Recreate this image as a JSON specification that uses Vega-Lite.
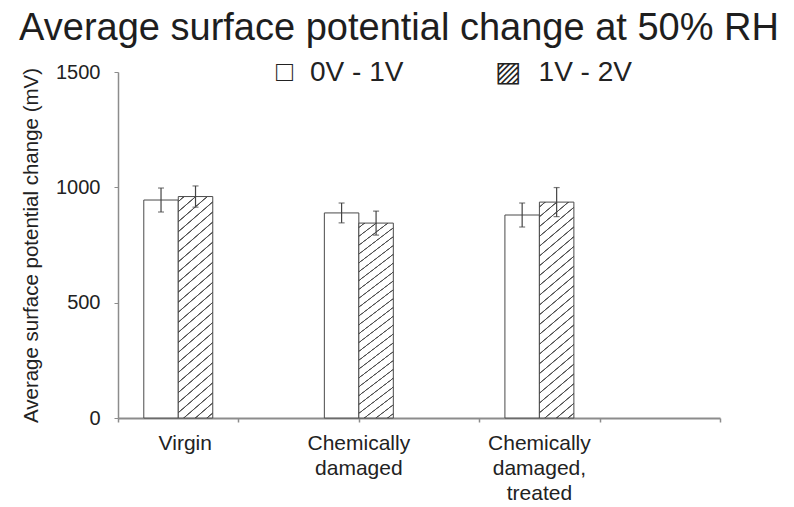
{
  "$schema": "https://vega.github.io/schema/vega-lite/v6.json",
  "width": 602,
  "height": 346,
  "autosize": {"type": "none"},
  "padding": {"left": 118, "top": 72, "right": 74, "bottom": 89},
  "background": "white",
  "config": {"font": "Liberation Sans", "view": {"stroke": null}},
  "title": {
    "text": "Average surface potential change at 50% RH",
    "fontSize": 38,
    "fontWeight": "normal",
    "color": "#1e1e1e",
    "anchor": "middle",
    "frame": "group",
    "dx": -20,
    "offset": 11
  },
  "data": {
    "values": [
      {"sample": "Virgin", "range": "0V - 1V", "mv": 945, "lo": 893, "hi": 997},
      {"sample": "Virgin", "range": "1V - 2V", "mv": 960, "lo": 914, "hi": 1006},
      {"sample": "Chemically damaged", "range": "0V - 1V", "mv": 889, "lo": 846, "hi": 932},
      {"sample": "Chemically damaged", "range": "1V - 2V", "mv": 845, "lo": 793, "hi": 897},
      {"sample": "Chemically damaged, treated", "range": "0V - 1V", "mv": 880, "lo": 828, "hi": 932},
      {"sample": "Chemically damaged, treated", "range": "1V - 2V", "mv": 936, "lo": 873, "hi": 999}
    ]
  },
  "resolve": {"scale": {"x": "independent"}, "axis": {"x": "independent"}},
  "layer": [
    {
      "mark": {"type": "rule", "opacity": 0},
      "encoding": {
        "x": {
          "datum": 0,
          "type": "quantitative",
          "scale": {"domain": [0, 5], "nice": false, "zero": false},
          "axis": {
            "orient": "bottom",
            "values": [0, 1, 2, 3, 4, 5],
            "labels": false,
            "title": null,
            "grid": false,
            "domainColor": "#8c8c8c",
            "domainWidth": 2,
            "tickColor": "#8c8c8c",
            "tickWidth": 1.5,
            "tickSize": 4
          }
        }
      }
    },
    {
      "layer": [
        {
          "mark": {"type": "bar", "strokeWidth": 1},
          "encoding": {
            "y": {
              "field": "mv",
              "type": "quantitative",
              "title": "Average surface potential change (mV)",
              "scale": {"domain": [0, 1500], "nice": false},
              "axis": {
                "values": [0, 500, 1000, 1500],
                "format": "d",
                "grid": false,
                "titleFontSize": 20.5,
                "titleFontWeight": "normal",
                "titleColor": "#222",
                "titlePadding": 14,
                "labelFontSize": 20,
                "labelColor": "#222",
                "labelPadding": 14,
                "tickSize": 4,
                "tickColor": "#8c8c8c",
                "domainColor": "#8c8c8c",
                "domainWidth": 1.5
              }
            },
            "fill": {
              "condition": {
                "test": "datum.range === '1V - 2V'",
                "value": {
                  "gradient": "linear",
                  "x1": 0, "y1": 0, "x2": 0.1503, "y2": 1.1146,
                  "stops": [
                    {"offset": 0, "color": "white"},
                    {"offset": 0.016, "color": "white"}, {"offset": 0.0185, "color": "#505050"}, {"offset": 0.0215, "color": "#505050"}, {"offset": 0.024, "color": "white"},
                    {"offset": 0.056, "color": "white"}, {"offset": 0.0585, "color": "#505050"}, {"offset": 0.0615, "color": "#505050"}, {"offset": 0.064, "color": "white"},
                    {"offset": 0.096, "color": "white"}, {"offset": 0.0985, "color": "#505050"}, {"offset": 0.1015, "color": "#505050"}, {"offset": 0.104, "color": "white"},
                    {"offset": 0.136, "color": "white"}, {"offset": 0.1385, "color": "#505050"}, {"offset": 0.1415, "color": "#505050"}, {"offset": 0.144, "color": "white"},
                    {"offset": 0.176, "color": "white"}, {"offset": 0.1785, "color": "#505050"}, {"offset": 0.1815, "color": "#505050"}, {"offset": 0.184, "color": "white"},
                    {"offset": 0.216, "color": "white"}, {"offset": 0.2185, "color": "#505050"}, {"offset": 0.2215, "color": "#505050"}, {"offset": 0.224, "color": "white"},
                    {"offset": 0.256, "color": "white"}, {"offset": 0.2585, "color": "#505050"}, {"offset": 0.2615, "color": "#505050"}, {"offset": 0.264, "color": "white"},
                    {"offset": 0.296, "color": "white"}, {"offset": 0.2985, "color": "#505050"}, {"offset": 0.3015, "color": "#505050"}, {"offset": 0.304, "color": "white"},
                    {"offset": 0.336, "color": "white"}, {"offset": 0.3385, "color": "#505050"}, {"offset": 0.3415, "color": "#505050"}, {"offset": 0.344, "color": "white"},
                    {"offset": 0.376, "color": "white"}, {"offset": 0.3785, "color": "#505050"}, {"offset": 0.3815, "color": "#505050"}, {"offset": 0.384, "color": "white"},
                    {"offset": 0.416, "color": "white"}, {"offset": 0.4185, "color": "#505050"}, {"offset": 0.4215, "color": "#505050"}, {"offset": 0.424, "color": "white"},
                    {"offset": 0.456, "color": "white"}, {"offset": 0.4585, "color": "#505050"}, {"offset": 0.4615, "color": "#505050"}, {"offset": 0.464, "color": "white"},
                    {"offset": 0.496, "color": "white"}, {"offset": 0.4985, "color": "#505050"}, {"offset": 0.5015, "color": "#505050"}, {"offset": 0.504, "color": "white"},
                    {"offset": 0.536, "color": "white"}, {"offset": 0.5385, "color": "#505050"}, {"offset": 0.5415, "color": "#505050"}, {"offset": 0.544, "color": "white"},
                    {"offset": 0.576, "color": "white"}, {"offset": 0.5785, "color": "#505050"}, {"offset": 0.5815, "color": "#505050"}, {"offset": 0.584, "color": "white"},
                    {"offset": 0.616, "color": "white"}, {"offset": 0.6185, "color": "#505050"}, {"offset": 0.6215, "color": "#505050"}, {"offset": 0.624, "color": "white"},
                    {"offset": 0.656, "color": "white"}, {"offset": 0.6585, "color": "#505050"}, {"offset": 0.6615, "color": "#505050"}, {"offset": 0.664, "color": "white"},
                    {"offset": 0.696, "color": "white"}, {"offset": 0.6985, "color": "#505050"}, {"offset": 0.7015, "color": "#505050"}, {"offset": 0.704, "color": "white"},
                    {"offset": 0.736, "color": "white"}, {"offset": 0.7385, "color": "#505050"}, {"offset": 0.7415, "color": "#505050"}, {"offset": 0.744, "color": "white"},
                    {"offset": 0.776, "color": "white"}, {"offset": 0.7785, "color": "#505050"}, {"offset": 0.7815, "color": "#505050"}, {"offset": 0.784, "color": "white"},
                    {"offset": 0.816, "color": "white"}, {"offset": 0.8185, "color": "#505050"}, {"offset": 0.8215, "color": "#505050"}, {"offset": 0.824, "color": "white"},
                    {"offset": 0.856, "color": "white"}, {"offset": 0.8585, "color": "#505050"}, {"offset": 0.8615, "color": "#505050"}, {"offset": 0.864, "color": "white"},
                    {"offset": 0.896, "color": "white"}, {"offset": 0.8985, "color": "#505050"}, {"offset": 0.9015, "color": "#505050"}, {"offset": 0.904, "color": "white"},
                    {"offset": 0.936, "color": "white"}, {"offset": 0.9385, "color": "#505050"}, {"offset": 0.9415, "color": "#505050"}, {"offset": 0.944, "color": "white"},
                    {"offset": 0.976, "color": "white"}, {"offset": 0.9785, "color": "#505050"}, {"offset": 0.9815, "color": "#505050"}, {"offset": 0.984, "color": "white"},
                    {"offset": 1, "color": "white"}
                  ]
                }
              },
              "value": "white"
            },
            "stroke": {
              "field": "range",
              "type": "nominal",
              "scale": {"domain": ["0V - 1V", "1V - 2V"], "range": ["#4a4a4a", "#4a4a4a"]},
              "legend": {
                "title": null,
                "orient": "none",
                "legendX": 130,
                "legendY": -13,
                "direction": "horizontal",
                "symbolSize": 0,
                "symbolStrokeWidth": 0,
                "symbolOpacity": 0,
                "labelFont": "Liberation Sans, DejaVu Sans",
                "labelFontSize": 28,
                "labelColor": "#222",
                "labelOffset": 0,
                "labelLimit": 300,
                "columnPadding": 63,
                "labelExpr": "(datum.value === '1V - 2V' ? '▨\u2004 ' : '□\u2004 ') + datum.label"
              }
            }
          }
        },
        {
          "mark": {"type": "rule", "color": "#444", "strokeWidth": 1.2},
          "encoding": {
            "y": {"field": "lo", "type": "quantitative", "title": "Average surface potential change (mV)"},
            "y2": {"field": "hi"}
          }
        },
        {
          "mark": {"type": "tick", "orient": "horizontal", "size": 6, "thickness": 1.2, "color": "#444"},
          "encoding": {
            "y": {"field": "lo", "type": "quantitative", "title": "Average surface potential change (mV)"}
          }
        },
        {
          "mark": {"type": "tick", "orient": "horizontal", "size": 6, "thickness": 1.2, "color": "#444"},
          "encoding": {
            "y": {"field": "hi", "type": "quantitative", "title": "Average surface potential change (mV)"}
          }
        }
      ],
      "encoding": {
        "x": {
          "field": "sample",
          "type": "nominal",
          "sort": ["Virgin", "Chemically damaged", "Chemically damaged, treated"],
          "scale": {
            "domain": ["Virgin", "Chemically damaged", "Chemically damaged, treated"],
            "paddingInner": 0.618,
            "paddingOuter": 0.476,
            "align": 0.15
          },
          "axis": {
            "orient": "bottom",
            "title": null,
            "domain": false,
            "ticks": false,
            "labelAngle": 0,
            "labelFontSize": 21,
            "labelColor": "#222",
            "labelPadding": 14,
            "labelLineHeight": 25,
            "labelBaseline": "top",
            "labelOffset": {"condition": {"test": "datum.value === 'Virgin'", "value": 7}, "value": 0},
            "labelExpr": "datum.value === 'Chemically damaged' ? ['Chemically', 'damaged'] : datum.value === 'Chemically damaged, treated' ? ['Chemically', 'damaged,', 'treated'] : datum.value"
          }
        },
        "xOffset": {
          "field": "range",
          "type": "nominal",
          "sort": ["0V - 1V", "1V - 2V"],
          "scale": {"paddingInner": 0, "paddingOuter": 0}
        }
      }
    }
  ]
}
